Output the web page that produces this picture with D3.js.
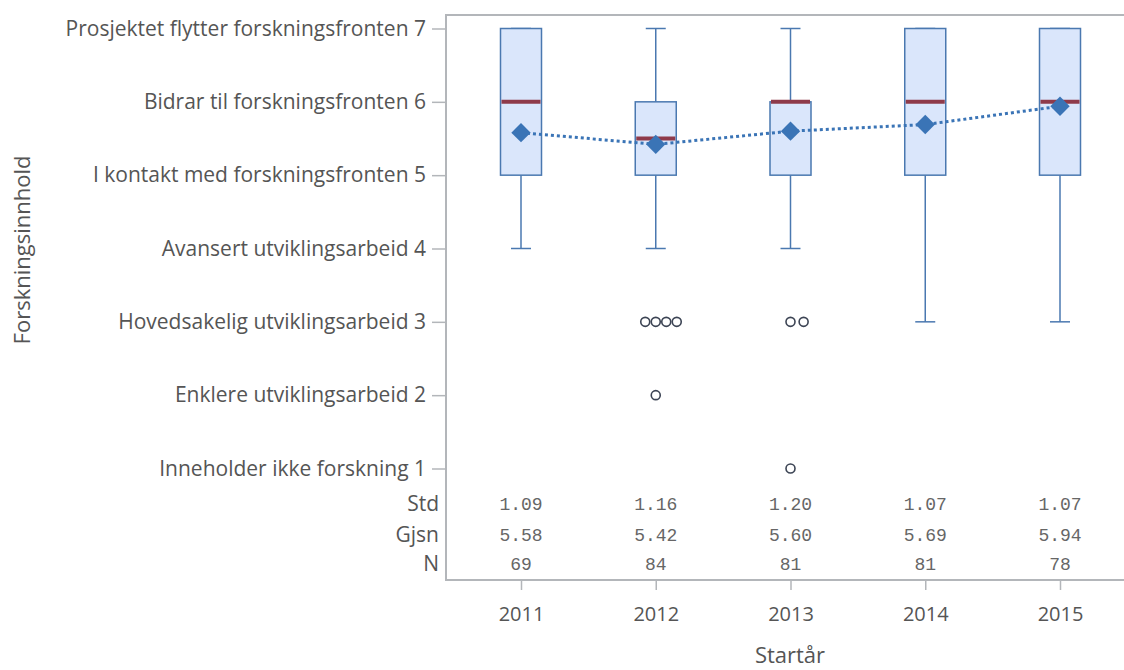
<!DOCTYPE html>
<html><head><meta charset="utf-8">
<script src="https://cdn.jsdelivr.net/npm/d3@7"></script>
<style>body{margin:0;background:#fff}svg{display:block}</style>
</head><body><svg id="c" width="1124" height="670"></svg>
<script>
const years = ["2011","2012","2013","2014","2015"];
const q1 = [5,5,5,5,5];
const median = [6,5.5,6,6,6];
const q3 = [7,6,6,7,7];
const whiskLow = [4,4,4,3,3];
const whiskHigh = [7,7,7,7,7];
const means = [5.58,5.42,5.60,5.69,5.94];
const stds = ["1.09","1.16","1.20","1.07","1.07"];
const gjsn = ["5.58","5.42","5.60","5.69","5.94"];
const ns = ["69","84","81","81","78"];
// outliers: [year, value, offset index]
const outliers = [["2012",3,-1],["2012",3,0],["2012",3,1],["2012",3,2],["2012",2,0],["2013",3,0],["2013",3,1.25],["2013",1,0]];
const yTickValues = [1,2,3,4,5,6,7];
const yTickLabels = ["Inneholder ikke forskning 1","Enklere utviklingsarbeid 2","Hovedsakelig utviklingsarbeid 3","Avansert utviklingsarbeid 4","I kontakt med forskningsfronten 5","Bidrar til forskningsfronten 6","Prosjektet flytter forskningsfronten 7"];
const tableRows = ["Std","Gjsn","N"];

const svg = d3.select("#c");
const font = "'Open Sans', sans-serif";
const textCol = "#555";
const frameCol = "#b3b6ba";
const L = 446, T = 15, B = 580;
const x = d3.scalePoint().domain(years).range([521, 1060]);
const y = d3.scaleLinear().domain([1,7]).range([468.5, 28.5]);

// frame
svg.append("path").attr("d", `M1130,${T}H${L}V${B}H1130`).attr("fill","none").attr("stroke",frameCol).attr("stroke-width",2);

// y axis
const yAxis = d3.axisLeft(y).tickValues(yTickValues).tickFormat((d,i)=>yTickLabels[i]).tickSize(14).tickPadding(6);
const yg = svg.append("g").attr("transform",`translate(${L},0)`).call(yAxis);
yg.select(".domain").remove();
yg.selectAll(".tick line").attr("stroke",frameCol).attr("stroke-width",1.5);
yg.selectAll(".tick text").attr("fill",textCol).style("font-family",font).style("font-size","21px");

// x axis
const xAxis = d3.axisBottom(x).tickSize(10).tickPadding(17);
const xg = svg.append("g").attr("transform",`translate(0,${B})`).call(xAxis);
xg.select(".domain").remove();
xg.selectAll(".tick line").attr("stroke",frameCol).attr("stroke-width",1.5);
xg.selectAll(".tick text").attr("fill",textCol).style("font-family",font).style("font-size","20px");

// axis titles
svg.append("text").attr("x",790).attr("y",663).attr("text-anchor","middle").attr("fill",textCol)
  .style("font-family",font).style("font-size","22px").text("Startår");
svg.append("text").attr("transform","translate(30,250) rotate(-90)").attr("text-anchor","middle").attr("fill",textCol)
  .style("font-family",font).style("font-size","22px").text("Forskningsinnhold");

const boxCol = "#4a78b0", fillCol = "#dae6fb", medCol = "#8e3a4a", meanCol = "#3a74b6";
const bw = 41, cw = 20;
const g = svg.append("g");
years.forEach((yr,i)=>{
  const cx = x(yr);
  g.append("line").attr("x1",cx).attr("x2",cx).attr("y1",y(whiskLow[i])).attr("y2",y(q1[i])).attr("stroke",boxCol).attr("stroke-width",1.5);
  g.append("line").attr("x1",cx).attr("x2",cx).attr("y1",y(whiskHigh[i])).attr("y2",y(q3[i])).attr("stroke",boxCol).attr("stroke-width",1.5);
  g.append("line").attr("x1",cx-cw/2).attr("x2",cx+cw/2).attr("y1",y(whiskLow[i])).attr("y2",y(whiskLow[i])).attr("stroke",boxCol).attr("stroke-width",1.5);
  g.append("line").attr("x1",cx-cw/2).attr("x2",cx+cw/2).attr("y1",y(whiskHigh[i])).attr("y2",y(whiskHigh[i])).attr("stroke",boxCol).attr("stroke-width",1.5);
  g.append("rect").attr("x",cx-bw/2).attr("y",y(q3[i])).attr("width",bw).attr("height",y(q1[i])-y(q3[i]))
    .attr("fill",fillCol).attr("stroke",boxCol).attr("stroke-width",1.5);
  g.append("line").attr("x1",cx-bw/2+1).attr("x2",cx+bw/2-1).attr("y1",y(median[i])).attr("y2",y(median[i])).attr("stroke",medCol).attr("stroke-width",4);
});

// outliers
g.selectAll("circle.out").data(outliers).join("circle").attr("class","out")
  .attr("cx",d=>x(d[0])+d[2]*10.5).attr("cy",d=>y(d[1])).attr("r",4.5)
  .attr("fill","none").attr("stroke","#3c4454").attr("stroke-width",1.6);

// mean line
const line = d3.line().x((d,i)=>x(years[i])).y(d=>y(d));
g.append("path").datum(means).attr("d",line).attr("fill","none").attr("stroke",meanCol).attr("stroke-width",3).attr("stroke-dasharray","3,3");
const sym = d3.symbol().type(d3.symbolDiamond2).size(240);
g.selectAll("path.mean").data(means).join("path").attr("class","mean")
  .attr("transform",(d,i)=>`translate(${x(years[i])},${y(d)})`).attr("d",sym).attr("fill",meanCol);

// table
const rowsY = [504,535,564];
const rowVals = [stds,gjsn,ns];
tableRows.forEach((r,j)=>{
  svg.append("text").attr("x",439).attr("y",rowsY[j]).attr("dy","0.35em").attr("text-anchor","end").attr("fill",textCol)
    .style("font-family",font).style("font-size","21px").text(r);
  years.forEach((yr,i)=>{
    svg.append("text").attr("x",x(yr)).attr("y",rowsY[j]).attr("dy","0.35em").attr("text-anchor","middle").attr("fill","#666")
      .style("font-family","'Liberation Mono', monospace").style("font-size","18px").text(rowVals[j][i]);
  });
});
</script></body></html>
